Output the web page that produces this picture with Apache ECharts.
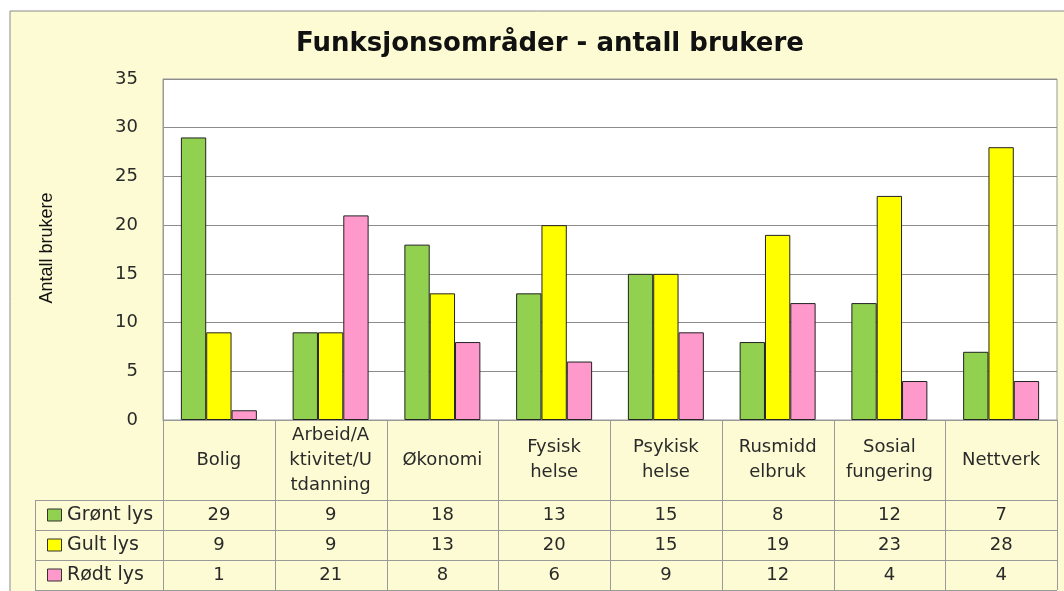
<!DOCTYPE html>
<html>
<head>
<meta charset="utf-8">
<script src="https://cdn.jsdelivr.net/npm/echarts@6/dist/echarts.min.js"></script>
<style>
  html, body { margin: 0; padding: 0; background: #fff; }
  #chart { width: 1064px; height: 591px; }
</style>
</head>
<body>
<div id="chart"></div>
<script>
// data
const categories = ['Bolig', 'Arbeid/A\nktivitet/U\ntdanning', 'Økonomi', 'Fysisk\nhelse',
  'Psykisk\nhelse', 'Rusmidd\nelbruk', 'Sosial\nfungering', 'Nettverk']
const seriesNames = ['Grønt lys', 'Gult lys', 'Rødt lys']
const gronn = [29, 9, 18, 13, 15, 8, 12, 7]
const gult = [9, 9, 13, 20, 15, 19, 23, 28]
const rodt = [1, 21, 8, 6, 9, 12, 4, 4]
const yTicks = [0, 5, 10, 15, 20, 25, 30, 35]

const colors = ['#92D050', '#FFFF00', '#FF99CC']
const FONT = 'DejaVu Sans, sans-serif'

// layout
const W = 1064, H = 591
const L = 163, R = 7, T = 79, AXIS_Y = 420
const colW = (W - L - R) / categories.length
const headBottom = 500, rowH = 30, labelLeft = 35
const lineCol = '#9a9a9a'

const chart = echarts.init(document.getElementById('chart'))

const g = []
// ramme
g.push({ type: 'rect', z: -10, shape: { x: 10, y: 11, width: W, height: H }, style: { fill: '#FDFBD3', stroke: '#8a8a8a', lineWidth: 1 } })
// y-akse tittel
g.push({ type: 'text', x: 47, y: 248, rotation: Math.PI / 2,
  style: { text: 'Antall brukere', align: 'center', verticalAlign: 'middle', font: '18px Liberation Sans, sans-serif', fill: '#111' } })

// tabell linjer
const tableBottom = headBottom + rowH * seriesNames.length
for (let i = 0; i <= categories.length; i++) {
  const x = Math.round(L + i * colW) + 0.5
  g.push({ type: 'line', shape: { x1: x, y1: AXIS_Y, x2: x, y2: tableBottom }, style: { stroke: lineCol, lineWidth: 1 } })
}
g.push({ type: 'line', shape: { x1: labelLeft + 0.5, y1: headBottom, x2: labelLeft + 0.5, y2: tableBottom }, style: { stroke: lineCol, lineWidth: 1 } })
for (let r = 0; r <= seriesNames.length; r++) {
  const y = headBottom + r * rowH + 0.5
  g.push({ type: 'line', shape: { x1: labelLeft, y1: y, x2: W - R, y2: y }, style: { stroke: lineCol, lineWidth: 1 } })
}
// kolonneoverskrifter
categories.forEach((c, i) => {
  g.push({ type: 'text', x: L + (i + 0.5) * colW, y: (AXIS_Y + headBottom) / 2,
    style: { text: c, align: 'center', verticalAlign: 'middle', lineHeight: 25, font: '18px ' + FONT, fill: '#2a2a2a' } })
})
// rader
const rows = [gronn, gult, rodt]
rows.forEach((vals, r) => {
  const yc = headBottom + (r + 0.5) * rowH
  g.push({ type: 'rect', shape: { x: 47.5, y: yc - 6, width: 14, height: 12 }, style: { fill: colors[r], stroke: '#333', lineWidth: 1 } })
  g.push({ type: 'text', x: 67, y: yc, style: { text: seriesNames[r], align: 'left', verticalAlign: 'middle', font: '19px ' + FONT, fill: '#2a2a2a' } })
  vals.forEach((v, i) => {
    g.push({ type: 'text', x: L + (i + 0.5) * colW, y: yc, style: { text: String(v), align: 'center', verticalAlign: 'middle', font: '18px ' + FONT, fill: '#2a2a2a' } })
  })
})

const option = {
  backgroundColor: '#fff',
  animation: false,
  title: {
    text: 'Funksjonsområder - antall brukere',
    left: 545, top: 26, textAlign: 'center',
    textStyle: { fontFamily: FONT, fontWeight: 'bold', fontSize: 26, color: '#111' }
  },
  grid: {
    left: L, right: R, top: T, bottom: H - AXIS_Y,
    show: true, backgroundColor: '#fff', borderColor: '#999', borderWidth: 1
  },
  xAxis: {
    type: 'category',
    data: categories,
    axisLine: { show: true, lineStyle: { color: lineCol } },
    axisTick: { show: false },
    axisLabel: { show: false }
  },
  yAxis: {
    type: 'value',
    min: yTicks[0], max: yTicks[yTicks.length - 1], interval: 5,
    axisLine: { show: true, lineStyle: { color: '#999' } },
    axisTick: { show: false },
    axisLabel: { margin: 25, fontFamily: FONT, fontSize: 18, color: '#2a2a2a' },
    splitLine: { lineStyle: { color: '#8c8c8c' } }
  },
  series: [gronn, gult, rodt].map((d, i) => ({
    name: seriesNames[i],
    type: 'bar',
    data: d,
    barGap: '0%',
    barCategoryGap: '32%',
    itemStyle: { color: colors[i], borderColor: '#222', borderWidth: 1 }
  })),
  graphic: g
}

chart.setOption(option)
</script>
</body>
</html>
